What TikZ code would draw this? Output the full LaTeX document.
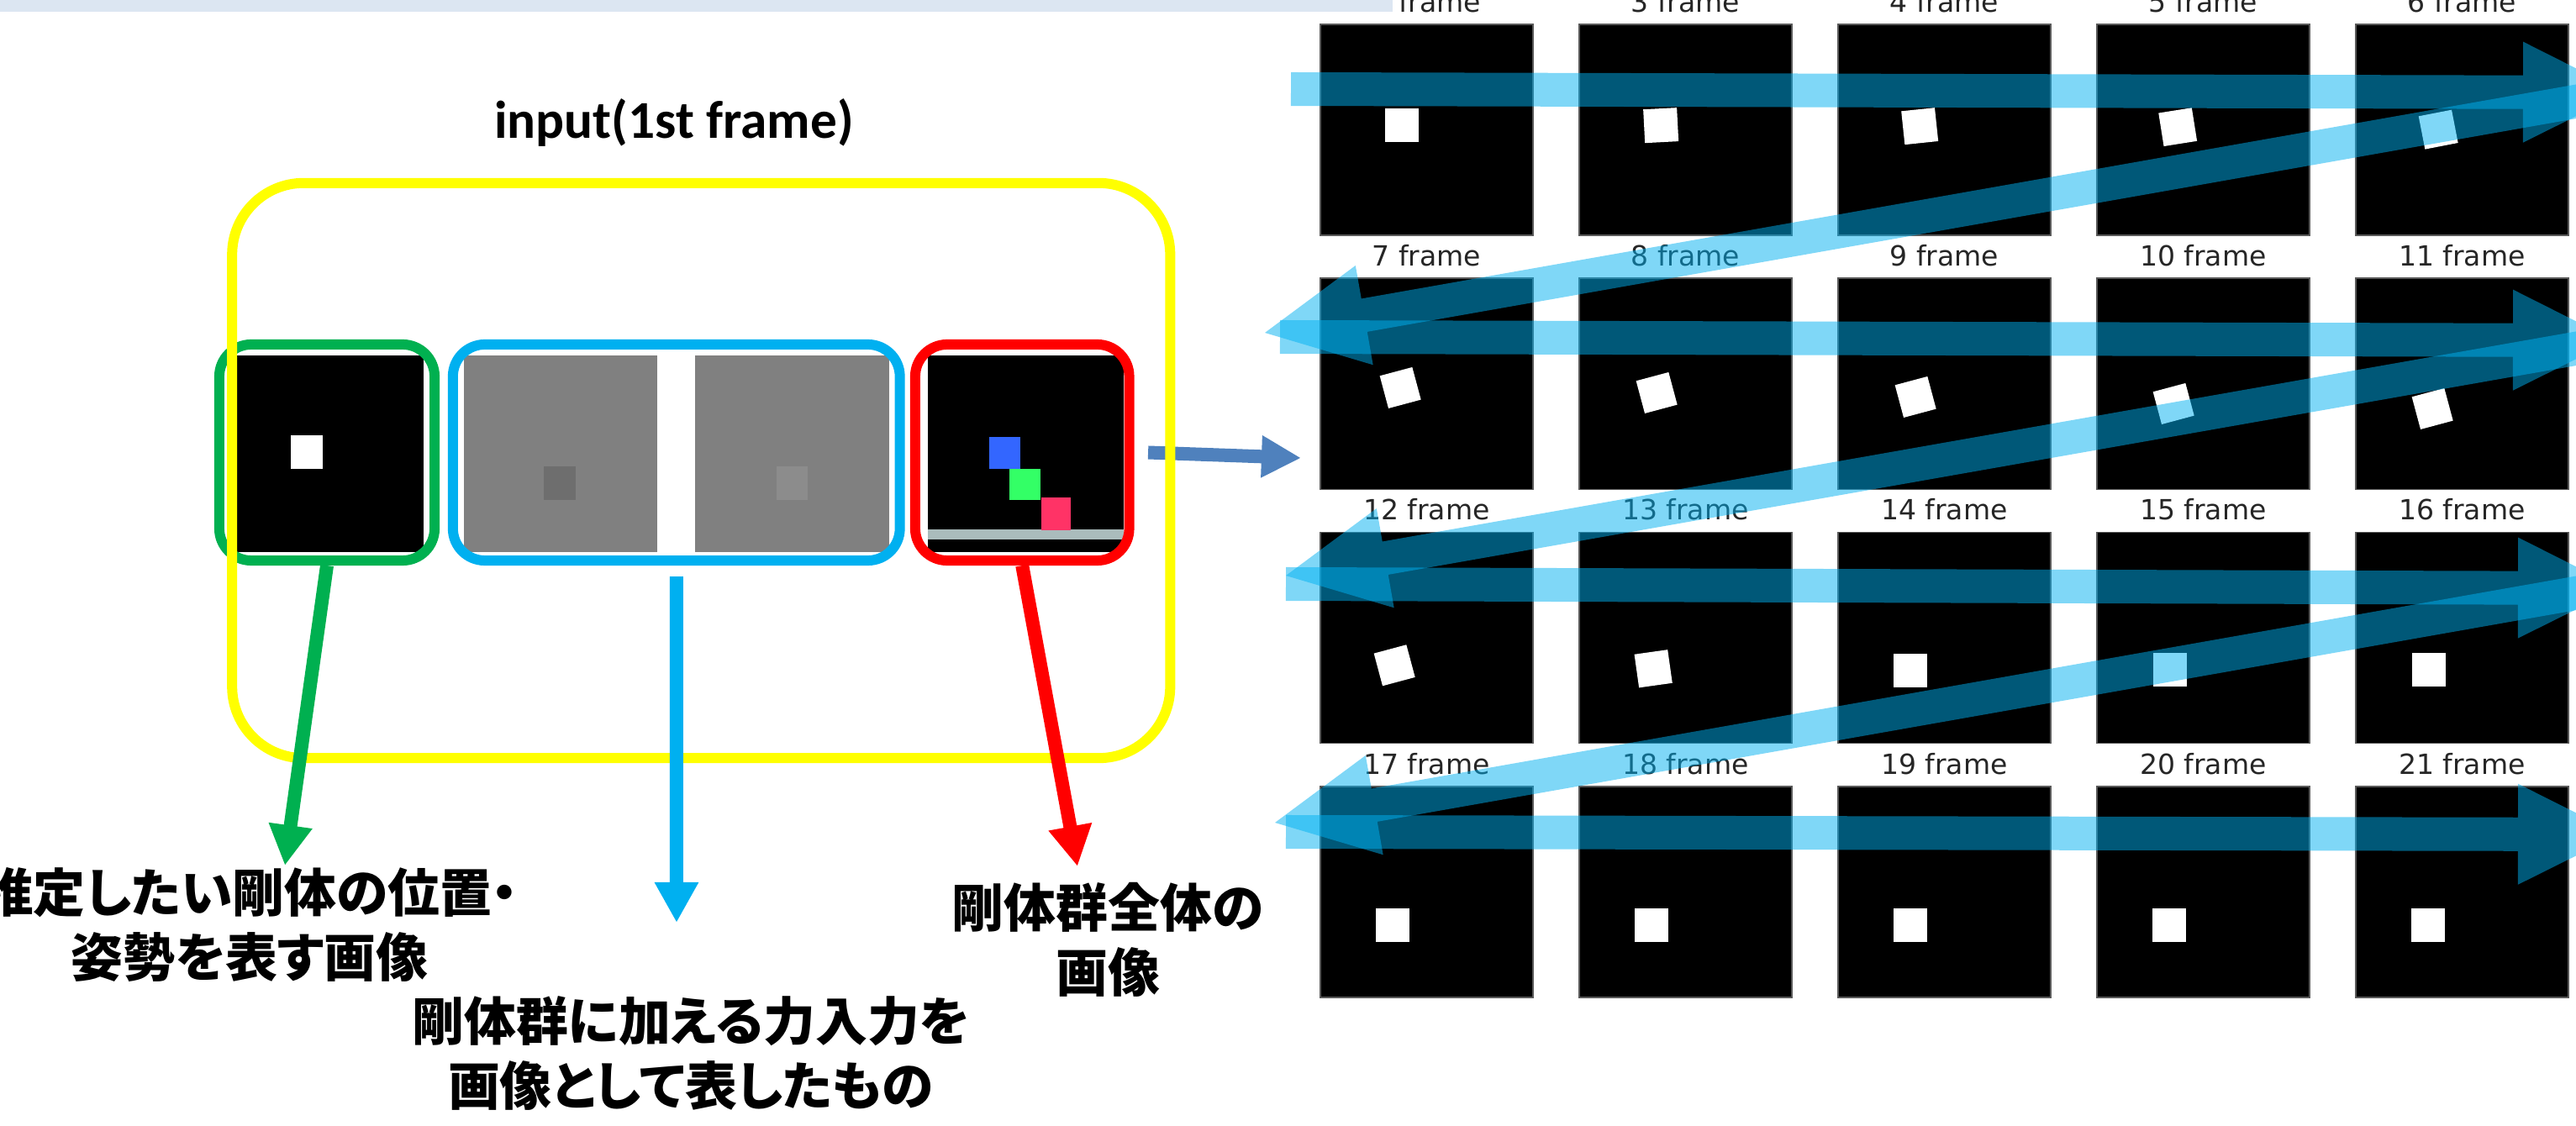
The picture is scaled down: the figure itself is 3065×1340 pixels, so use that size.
\documentclass[tikz,border=0pt]{standalone}
\usepackage{fontspec}
\setmainfont{Carlito}
\newfontfamily\jpfont[RawFeature=+palt]{Noto Sans CJK JP}
\newfontfamily\plotfont{DejaVu Sans}
\usetikzlibrary{positioning,arrows.meta,calc}

\definecolor{boxyellow}{HTML}{FFFF00}
\definecolor{posegreen}{HTML}{00B050}
\definecolor{forcecyan}{HTML}{00B0F0}
\definecolor{scenered}{HTML}{FF0000}
\definecolor{flowblue}{HTML}{4F81BD}
\definecolor{headerband}{HTML}{DCE6F2}
\definecolor{groundgray}{HTML}{AABCBC}
\definecolor{bodyblue}{HTML}{3366FF}
\definecolor{bodygreen}{HTML}{33FF66}
\definecolor{bodyred}{HTML}{FF3366}

\tikzset{
  groupbox/.style={draw,rounded corners=0.38cm,line width=0.12cm,minimum height=2.57cm},
  simimg/.style={fill=black,minimum height=2.34cm,inner sep=0pt},
  forceimg/.style={simimg,fill=black!50},
  simframe/.style={fill=black,draw=black!65,line width=0.015cm,
                   minimum width=2.53cm,minimum height=2.51cm,inner sep=0pt},
  block/.style={fill=white,minimum size=0.4cm,inner sep=0pt},
  framelabel/.style={font=\plotfont\fontsize{9.4pt}{11pt}\selectfont,
                     text=black!85,inner sep=0pt,anchor=base},
  jplabel/.style={font=\fontsize{17.6pt}{21.9pt}\jpfont\bfseries,
                  align=center,inner sep=0pt},
  tagarrow/.style={line width=0.16cm,-{Triangle[length=0.48cm,width=0.49cm]}},
  flowarrow/.style={line width=0.16cm,flowblue,-{Triangle[length=0.47cm,width=0.47cm]}},
  scanband/.style={fill=forcecyan,fill opacity=0.5},
}

% wide block arrow from #1 (tail) to #2 (tip)
\newcommand\scanarrow[2]{%
  \path (#2) coordinate (tip) ($(#2)!1.2cm!(#1)$) coordinate (neck);
  \fill[scanband] ($(#1)!0.2cm!90:(#2)$) -- ($(neck)!0.2cm!90:(tip)$)
    -- ($(neck)!0.6cm!90:(tip)$) -- (tip) -- ($(neck)!0.6cm!-90:(tip)$)
    -- ($(neck)!0.2cm!-90:(tip)$) -- ($(#1)!0.2cm!-90:(#2)$) -- cycle;
}

\begin{document}
\begin{tikzpicture}[x=0.01cm,y=-0.01cm]
  \useasboundingbox (0,0) rectangle (3065,1340);
  \clip (0,0) rectangle (3065,1340);

  % simulated frames, five per row
  \foreach \n/\dx/\dy/\ang in {2/98/121/0,3/98/121/3,4/98/122/6,5/97/123/9,6/99/126/11,
      7/96/131/15,8/93/137/15,9/93/142/15,10/92/150/15,11/92/156/15,
      12/89/159/15,13/89/163/8,14/87/165/0,15/88/164/0,16/88/164/0,
      17/87/166/0,18/87/166/0,19/87/166/0,20/87/166/0,21/87/166/0}{
    \pgfmathtruncatemacro\rr{(\n-2)/5}
    \pgfmathtruncatemacro\cc{\n-2-5*\rr}
    \node[simframe] (f\n) at ({1697.5+308*\cc},{154.5+302.3*\rr}) {};
    \node[framelabel] (l\n) at ([yshift=0.14cm]f\n.north) {\n\ frame};
    \node[block,rotate=\ang] (b\n) at ($(f\n.north west)+(\dx,\dy)$) {};
  }

  \fill[headerband] (0,0) rectangle (1657,14);

  % reading order over the frames
  \scanarrow{1536,106}{3122,110}
  \scanarrow{3200,97}{1505,396}
  \scanarrow{1523,401}{3110,405}
  \scanarrow{3200,391}{1530,685}
  \scanarrow{1530,695}{3116,700}
  \scanarrow{3200,682}{1517,979}
  \scanarrow{1530,990}{3116,993}
  \coordinate (gridin) at (1548,545);

  % input of the first frame
  \node[font=\fontsize{18pt}{21.6pt}\selectfont\bfseries,anchor=base,inner sep=0pt]
    (title) at (802,165) {input(1st frame)};

  \node[simimg,minimum width=2.215cm] (poseimg) at (393.25,540) {};
  \fill[white] (346,518) rectangle (384,558);
  \node[forceimg,minimum width=2.295cm] (forceA) at (666.75,540) {};
  \fill[black!57] (647,555) rectangle (685,595);
  \node[forceimg,minimum width=2.31cm] (forceB) at (942.5,540) {};
  \fill[black!45] (924,555) rectangle (961,595);
  \node[simimg,minimum width=2.33cm] (sceneimg) at (1220.5,540) {};
  \fill[groundgray] (1104,630) rectangle (1337,642);
  \fill[bodyblue] (1177,520) rectangle (1214,558);
  \fill[bodygreen] (1201,558) rectangle (1238,595);
  \fill[bodyred] (1239,592) rectangle (1274,631);

  \node[groupbox,posegreen,minimum width=2.56cm] (posebox) at (389,538.5) {};
  \node[groupbox,forcecyan,minimum width=5.315cm] (forcebox) at (804.75,538.5) {};
  \node[groupbox,scenered,minimum width=2.545cm] (scenebox) at (1216.25,538.5) {};

  \draw[flowarrow] ([xshift=0.165cm]scenebox.east) -- (gridin);

  \node[draw=boxyellow,rounded corners=0.85cm,line width=0.12cm,
        minimum width=11.155cm,minimum height=6.84cm] (inputbox) at (834.25,560) {};

  % what each group stands for
  \node[jplabel] (posetext) at (297,1100) {推定したい剛体の位置・\\姿勢を表す画像};
  \node[jplabel] (forcetext) at (822,1253) {剛体群に加える力入力を\\画像として表したもの};
  \node[jplabel] (scenetext) at (1318,1118) {剛体群全体の\\画像};

  \coordinate (posetip) at (339,1030);
  \coordinate (forcetip) at (805,1098);
  \coordinate (scenetip) at (1282,1031);
  \draw[tagarrow,posegreen] (posebox.south) -- (posetip);
  \draw[tagarrow,forcecyan] ([yshift=-0.13cm]forcebox.south) -- (forcetip);
  \draw[tagarrow,scenered] (scenebox.south) -- (scenetip);
\end{tikzpicture}
\end{document}
